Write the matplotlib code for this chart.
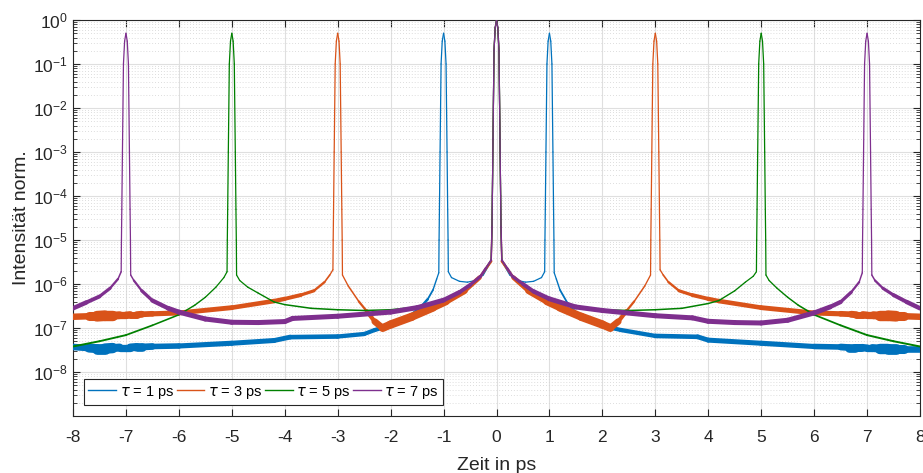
import numpy as np
import matplotlib
matplotlib.use('Agg')
import matplotlib.pyplot as plt
from matplotlib.collections import LineCollection
from matplotlib.lines import Line2D

plt.rcParams['font.family'] = ['Liberation Sans', 'DejaVu Sans']
plt.rcParams['mathtext.fontset'] = 'dejavusans'
plt.rcParams['axes.unicode_minus'] = False

# Serien
TAUS = [1, 3, 5, 7]
LABELS = [r'$\tau$ = 1 ps', r'$\tau$ = 3 ps', r'$\tau$ = 5 ps', r'$\tau$ = 7 ps']
COLORS = ['#0072BD', '#D95319', '#008000', '#7E2F8E']

# Pulsform (Abstand zum Pulszentrum in ps, Intensität)
PEAK_DT = [-0.085, -0.078, -0.066, -0.047, -0.025, 0.0, 0.025, 0.047, 0.066, 0.078, 0.085]
SIDE_PEAK = [1e-5, 5e-5, 1e-3, 0.1, 0.33, 0.5, 0.33, 0.1, 1e-3, 5e-5, 1e-5]
MAIN_PEAK = [2e-5, 1e-4, 2e-3, 0.2, 0.66, 1.0, 0.66, 0.2, 2e-3, 1e-4, 2e-5]

# Untergrund tau = 1 ps
T1_T = [-8, -7.7, -7.55, -7.4, -7.25, -7.12, -7.0, -6.92, -6.8, -6.7, -6.5, -6, -5, -4.2, -3.9, -3, -2.5,
        -2.3, -2.0, -1.7, -1.45, -1.3, -1.2, -1.13, -1.09, -0.91, -0.85, -0.7, -0.55, -0.4, -0.25, -0.1,
        0.1, 0.25, 0.4, 0.55, 0.7, 0.85, 0.91, 1.09, 1.13, 1.2, 1.34, 1.53, 1.8, 2.1, 2.35, 3.0, 3.8, 4.0,
        5, 6, 6.5, 6.65, 6.78, 6.9, 7.0, 7.1, 7.25, 7.4, 7.55, 7.7, 8]
T1_I = [3.7e-8, 3.5e-8, 3.4e-8, 3.4e-8, 3.5e-8, 3.6e-8, 3.6e-8, 3.6e-8, 3.7e-8, 3.7e-8, 3.8e-8, 3.9e-8,
        4.5e-8, 5.2e-8, 6.2e-8, 6.4e-8, 7.3e-8, 9e-8, 1.15e-7, 1.6e-7, 2.8e-7, 4.5e-7, 7.3e-7, 1.3e-6, 1.8e-6,
        1.9e-6, 1.4e-6, 1.15e-6, 1.1e-6, 1.2e-6, 1.6e-6, 3.3e-6,
        3.3e-6, 1.6e-6, 1.2e-6, 1.1e-6, 1.15e-6, 1.4e-6, 1.9e-6,
        1.8e-6, 1.3e-6, 7.3e-7, 3.7e-7, 2.0e-7, 1.4e-7, 1.05e-7, 9e-8, 6.6e-8, 6.3e-8, 5.3e-8,
        4.5e-8, 3.8e-8, 3.7e-8, 3.6e-8, 3.6e-8, 3.6e-8, 3.5e-8, 3.5e-8, 3.4e-8, 3.4e-8, 3.4e-8, 3.4e-8, 3.4e-8]
T1_W = [4, 5.5, 7.5, 8, 7, 4.5, 6, 4.5, 7, 5.5, 4.2, 3.8, 3.6, 3.6, 3.4, 3.2, 3, 3, 3, 2.8, 2.2, 1.5, 1.1, 0.9, 0.9,
        0.9, 0.9, 0.9, 0.9, 0.9, 0.9, 0.9,
        0.9, 0.9, 0.9, 0.9, 0.9, 0.9, 0.9,
        0.9, 0.9, 1.1, 1.5, 2.2, 2.8, 3, 3, 3.2, 3.4, 3.6,
        3.6, 3.8, 4.2, 5.5, 7, 4.5, 6, 4.5, 7, 8, 7.5, 5.5, 4]

# Untergrund tau = 3 ps
T3_T = [-8, -7.7, -7.55, -7.4, -7.25, -7.12, -7.0, -6.92, -6.8, -6.7, -6.5, -6, -5, -4.2, -4, -3.7, -3.45,
        -3.25, -3.15, -3.09, -2.91, -2.8, -2.6, -2.45, -2.3, -2.15, -2.0, -1.6, -1.2, -0.95, -0.6, -0.32, -0.1,
        0.1, 0.32, 0.6, 0.95, 1.2, 1.6, 2.0, 2.15, 2.3, 2.45, 2.6, 2.8, 2.91,
        3.09, 3.15, 3.25, 3.45, 3.7, 4, 4.2, 5, 6, 6.5, 6.7, 6.8, 6.92, 7.0, 7.12, 7.25, 7.4, 7.55, 7.7, 8]
T3_I = [1.8e-7, 1.85e-7, 1.85e-7, 1.9e-7, 1.9e-7, 1.95e-7, 1.95e-7, 2.0e-7, 2.0e-7, 2.05e-7, 2.1e-7, 2.2e-7,
        2.9e-7, 4.1e-7, 4.6e-7, 5.6e-7, 7e-7, 1.1e-6, 1.6e-6, 2.1e-6,
        1.6e-6, 9e-7, 4e-7, 2.4e-7, 1.4e-7, 1.0e-7, 1.2e-7, 1.8e-7, 2.9e-7, 4.0e-7, 7e-7, 1.4e-6, 3.3e-6,
        3.3e-6, 1.4e-6, 7e-7, 4.0e-7, 2.9e-7, 1.8e-7, 1.2e-7, 1.0e-7, 1.4e-7, 2.4e-7, 4e-7, 9e-7, 1.6e-6,
        2.1e-6, 1.6e-6, 1.1e-6, 7e-7, 5.6e-7, 4.6e-7, 4.1e-7, 2.9e-7, 2.2e-7, 2.1e-7, 2.05e-7, 2.0e-7, 2.0e-7,
        1.95e-7, 1.95e-7, 1.9e-7, 1.9e-7, 1.85e-7, 1.85e-7, 1.8e-7]
T3_W = [3.8, 5.5, 7.5, 8, 7, 4.5, 6, 4.5, 5.5, 4.5, 3.8, 3.6, 3.4, 3.2, 3, 2.6, 2, 1.4, 1.0, 0.9,
        0.9, 1.0, 1.2, 2, 4, 5.5, 6, 6, 5.5, 5, 4, 2.5, 1.2,
        1.2, 2.5, 4, 5, 5.5, 6, 6, 5.5, 4, 2, 1.2, 1.0, 0.9,
        0.9, 1.0, 1.4, 2, 2.6, 3, 3.2, 3.4, 3.6, 3.8, 4.5, 5.5, 4.5, 6, 4.5, 7, 8, 7.5, 5.5, 3.8]

# Untergrund tau = 5 ps
T5_T = [-8, -7.5, -7, -6.5, -6, -5.7, -5.5, -5.3, -5.15, -5.09, -4.91, -4.85, -4.7, -4.5, -4.2, -4, -3.5,
        -3, -2.5, -2, -1.5, -1, -0.7, -0.5, -0.3, -0.2, -0.1,
        0.1, 0.2, 0.3, 0.5, 0.7, 1, 1.5, 2, 2.5, 3, 3.5, 4, 4.2, 4.5, 4.7, 4.85, 4.91,
        5.09, 5.15, 5.3, 5.5, 5.7, 6, 6.5, 7, 7.5, 8]
T5_I = [3.8e-8, 5e-8, 6.9e-8, 1.15e-7, 2.0e-7, 3.3e-7, 5e-7, 8.5e-7, 1.4e-6, 1.9e-6,
        1.6e-6, 1.2e-6, 8.5e-7, 6.2e-7, 3.9e-7, 3.4e-7, 2.8e-7, 2.6e-7, 2.5e-7, 2.6e-7, 3.0e-7, 4.4e-7,
        6.5e-7, 9.5e-7, 1.5e-6, 2.3e-6, 3.5e-6,
        3.5e-6, 2.3e-6, 1.5e-6, 9.5e-7, 6.5e-7, 4.4e-7, 3.0e-7, 2.6e-7, 2.5e-7, 2.6e-7, 2.8e-7, 3.6e-7,
        4.2e-7, 7e-7, 1.1e-6, 1.5e-6, 1.9e-6,
        1.6e-6, 1.2e-6, 8e-7, 5e-7, 3.3e-7, 2.0e-7, 1.15e-7, 6.9e-8, 5e-8, 3.8e-8]
T5_W = [1.4, 1.4, 1.3, 1.2, 1.1, 1.0, 1.0, 0.9, 0.9, 0.9,
        0.9, 0.9, 0.9, 1.0, 1.0, 1.1, 1.1, 1.1, 1.1, 1.1, 1.1, 1.1, 1.1, 1.1, 1.0, 0.9, 0.9,
        0.9, 0.9, 1.0, 1.1, 1.1, 1.1, 1.1, 1.1, 1.1, 1.1, 1.1, 1.1, 1.0, 1.0, 0.9, 0.9, 0.9,
        0.9, 0.9, 1.0, 1.0, 1.1, 1.2, 1.3, 1.4, 1.4, 1.4]

# Untergrund tau = 7 ps
T7_T = [-8, -7.75, -7.5, -7.3, -7.15, -7.09, -6.91, -6.85, -6.7, -6.5, -6.2, -6, -5.5, -5, -4.5, -4,
        -3.85, -3, -2, -1.5, -1, -0.7, -0.5, -0.3, -0.2, -0.1,
        0.1, 0.2, 0.3, 0.5, 0.7, 1, 1.5, 2, 3, 3.7, 4, 4.5, 5, 5.5, 6, 6.3, 6.5, 6.7, 6.85, 6.91,
        7.09, 7.15, 7.3, 7.5, 7.75, 8]
T7_I = [2.8e-7, 3.8e-7, 5.2e-7, 8e-7, 1.3e-6, 1.9e-6,
        1.6e-6, 1.2e-6, 7e-7, 4.2e-7, 2.8e-7, 2.3e-7, 1.6e-7, 1.35e-7, 1.33e-7, 1.4e-7, 1.65e-7, 1.85e-7,
        2.3e-7, 2.9e-7, 4.3e-7, 6.5e-7, 9.5e-7, 1.5e-6, 2.3e-6, 3.5e-6,
        3.5e-6, 2.3e-6, 1.5e-6, 1.0e-6, 6.8e-7, 4.6e-7, 3.0e-7, 2.5e-7, 1.9e-7, 1.7e-7, 1.42e-7, 1.33e-7,
        1.3e-7, 1.5e-7, 2.2e-7, 3.0e-7, 3.9e-7, 6.5e-7, 1.1e-6, 1.8e-6,
        1.6e-6, 1.2e-6, 8e-7, 5.6e-7, 3.9e-7, 2.8e-7]
T7_W = [3.4, 3.0, 2.6, 2.0, 1.3, 0.9,
        0.9, 1.2, 2.0, 2.8, 3.4, 3.6, 3.6, 3.6, 3.6, 3.6, 3.6, 3.6, 3.6, 3.6, 3.4, 3.0, 2.6, 2.0, 1.6, 1.2,
        1.2, 1.6, 2.0, 2.6, 3.0, 3.4, 3.6, 3.6, 3.6, 3.6, 3.6, 3.6, 3.6, 3.6, 3.6, 3.4, 2.8, 2.0, 1.2, 0.9,
        0.9, 1.3, 2.0, 2.6, 3.0, 3.4]

BACKGROUND = [(T1_T, T1_I, T1_W), (T3_T, T3_I, T3_W), (T5_T, T5_I, T5_W), (T7_T, T7_I, T7_W)]


def build(tau, bg):
    t, i, w = list(bg[0]), list(bg[1]), list(bg[2])
    for p in (-tau, 0, tau):
        prof = MAIN_PEAK if p == 0 else SIDE_PEAK
        t += [p + d for d in PEAK_DT]
        i += prof
        w += [0.9] * len(PEAK_DT)
    order = np.argsort(t, kind='stable')
    return np.array(t)[order], np.array(i)[order], np.array(w)[order]


fig = plt.figure(figsize=(9.23, 4.73), dpi=100)
ax = fig.add_axes([73 / 923, 57 / 473, 847 / 923, 396 / 473])
ax.set_yscale('log')

for tau, bg, col in zip(TAUS, BACKGROUND, COLORS):
    t, i, w = build(tau, bg)
    segs = [[(t[k], i[k]), (t[k + 1], i[k + 1])] for k in range(len(t) - 1)]
    lws = [(w[k] + w[k + 1]) / 2 for k in range(len(t) - 1)]
    lc = LineCollection(segs, colors=col, linewidths=lws, capstyle='round', joinstyle='round', zorder=3)
    ax.add_collection(lc)

ax.set_xlim(-8, 8)
ax.set_ylim(1e-9, 1)
ax.set_xticks(range(-8, 9))
ax.set_xticklabels([str(v) for v in range(-8, 9)])
ax.set_yticks([10.0 ** k for k in range(-8, 1)])

ax.set_axisbelow(True)
ax.grid(which='major', color='#dfdfdf', lw=0.8)
ax.grid(which='minor', axis='y', color='#d2d2d2', ls=(0, (1, 2.5)), lw=0.6)

dark = '#262626'
for s in ax.spines.values():
    s.set_color(dark)
    s.set_linewidth(0.8)
ax.tick_params(which='both', direction='in', top=True, right=True, colors=dark, labelsize=12.5)
ax.tick_params(which='major', length=5)
ax.tick_params(which='minor', length=3)
ax.tick_params(axis='x', pad=10)

ax.set_xlabel('Zeit in ps', fontsize=14, color=dark, labelpad=9)
ax.set_ylabel('Intensität norm.', fontsize=14, color=dark, labelpad=2)

handles = [Line2D([], [], color=c, lw=1.0) for c in COLORS]
leg = ax.legend(handles, LABELS, loc='lower left', bbox_to_anchor=(0.013, 0.028), borderaxespad=0,
                ncol=4, fontsize=10.5, handlelength=1.9, handletextpad=0.25, columnspacing=0.15,
                fancybox=False, framealpha=1, edgecolor=dark, borderpad=0.3)
leg.get_frame().set_linewidth(0.8)

fig.savefig('out.png', dpi=100)
